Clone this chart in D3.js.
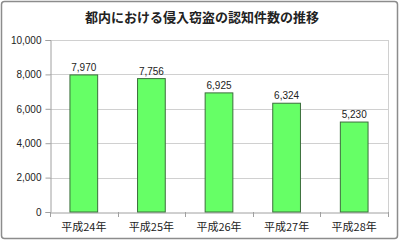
<!DOCTYPE html>
<html>
<head>
<meta charset="utf-8">
<script src="https://cdn.jsdelivr.net/npm/d3@7"></script>
<style>
  body { margin: 0; background: #fff; }
  svg text { font-family: "Noto Sans CJK JP", "Noto Sans", sans-serif; fill: #222; }
</style>
</head>
<body>
<svg id="chart" width="400" height="241"></svg>
<script>
// data
const years = ['平成24年', '平成25年', '平成26年', '平成27年', '平成28年'];
const counts = [7970, 7756, 6925, 6324, 5230];
const yTicks = [0, 2000, 4000, 6000, 8000, 10000];

const svg = d3.select('#chart');
const W = 400, H = 241;
const margin = {top: 40, right: 12, bottom: 29, left: 50};

// outer frame
svg.append('rect')
  .attr('x', 1.5).attr('y', 1.5)
  .attr('width', W - 4).attr('height', H - 4)
  .attr('rx', 3)
  .attr('fill', '#fff')
  .attr('stroke', '#8c8c8c')
  .attr('stroke-width', 1.5);

// title
svg.append('text')
  .attr('x', 202).attr('y', 22)
  .attr('text-anchor', 'middle')
  .style('font-size', '13px')
  .style('font-weight', 'bold')
  .text('都内における侵入窃盗の認知件数の推移');

const x = d3.scaleBand()
  .domain(years)
  .range([margin.left, W - margin.right])
  .paddingInner(0.59)
  .paddingOuter(0.295);

const y = d3.scaleLinear()
  .domain([0, 10000])
  .range([H - margin.bottom, margin.top]);

// gridlines
svg.append('g')
  .selectAll('line')
  .data(yTicks.slice(1))
  .join('line')
  .attr('x1', margin.left).attr('x2', W - margin.right)
  .attr('y1', d => Math.round(y(d)) + 0.5).attr('y2', d => Math.round(y(d)) + 0.5)
  .attr('stroke', '#d0d0d0');

// right border of plot
svg.append('line')
  .attr('x1', W - margin.right + 0.5).attr('x2', W - margin.right + 0.5)
  .attr('y1', margin.top).attr('y2', H - margin.bottom)
  .attr('stroke', '#d0d0d0');

// y axis
const yAxis = svg.append('g')
  .attr('transform', `translate(${margin.left + 0.5},0)`)
  .call(d3.axisLeft(y).tickValues(yTicks).tickFormat(d3.format(',')).tickSize(5).tickPadding(4));
yAxis.select('.domain').attr('stroke', '#a0a0a0');
yAxis.selectAll('.tick line').attr('stroke', '#a0a0a0');
yAxis.selectAll('text').style('font-size', '10px').style('font-family', '"Liberation Sans", sans-serif').attr('fill', '#222');

// x axis
const xAxis = svg.append('g')
  .attr('transform', `translate(0,${H - margin.bottom + 0.5})`)
  .call(d3.axisBottom(x).tickSize(0).tickPadding(11));
xAxis.select('.domain').attr('stroke', '#a0a0a0');
xAxis.selectAll('text').style('font-size', '11px').attr('fill', '#222');

// category boundary ticks
const step = x.step();
svg.append('g')
  .selectAll('line')
  .data(d3.range(years.length + 1))
  .join('line')
  .attr('x1', i => Math.round(margin.left + i * step) + 0.5)
  .attr('x2', i => Math.round(margin.left + i * step) + 0.5)
  .attr('y1', H - margin.bottom).attr('y2', H - margin.bottom + 5)
  .attr('stroke', '#a0a0a0');

// bars
svg.append('g')
  .selectAll('rect')
  .data(counts)
  .join('rect')
  .attr('x', (d, i) => x(years[i]))
  .attr('y', d => y(d))
  .attr('width', x.bandwidth())
  .attr('height', d => y(0) - y(d))
  .attr('fill', '#66ff66')
  .attr('stroke', '#3c6e3c')
  .attr('stroke-width', 1);

// value labels
svg.append('g')
  .selectAll('text')
  .data(counts)
  .join('text')
  .attr('x', (d, i) => x(years[i]) + x.bandwidth() / 2)
  .attr('y', d => y(d) - 4)
  .attr('text-anchor', 'middle')
  .style('font-size', '10px')
  .style('font-family', '"Liberation Sans", sans-serif')
  .text(d3.format(','));
</script>
</body>
</html>
